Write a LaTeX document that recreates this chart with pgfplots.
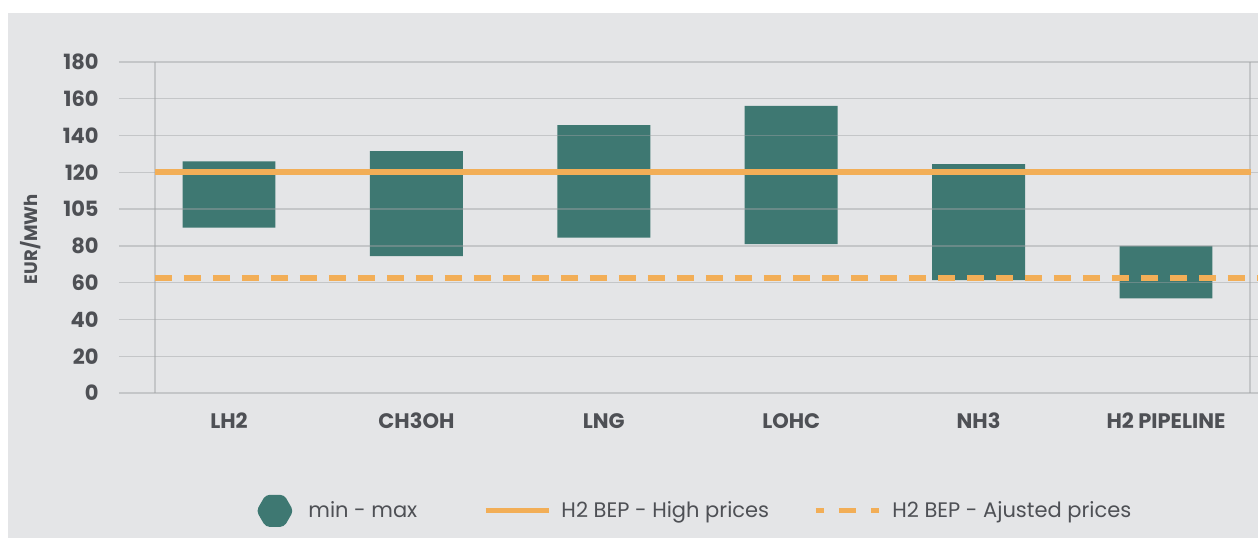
\documentclass[border=0pt]{standalone}
\usepackage{pgfplots}
\pgfplotsset{compat=1.18}
\usepackage{pgfplotstable}
\usepackage{fontspec}
\setmainfont{Poppins}
\usetikzlibrary{shapes.geometric}
\definecolor{bg}{HTML}{E4E5E7}
\definecolor{gridc}{HTML}{9FA1A4}
\definecolor{barc}{HTML}{3E7872}
\definecolor{orng}{HTML}{F2AE57}
\definecolor{txt}{HTML}{4E5055}

\pgfplotstableread{
x min max
0 90 126
1 74.5 131.5
2 84.5 145.7
3 81 156.2
4 61.4 124.5
5 51.5 80
}\bars

\begin{document}
\begin{tikzpicture}
\useasboundingbox (0,0) rectangle (629pt,269pt);
\fill[white] (0,0) rectangle (629pt,269pt);
\fill[bg] (4pt,0) rectangle (629pt,262.5pt);
\begin{axis}[
  at={(59.5pt,72.5pt)}, anchor=south west,
  scale only axis, width=569.5pt, height=165.5pt,
  xmin=-0.587, xmax=5.491, ymin=0, ymax=180,
  axis line style={draw=none},
  ybar stacked, bar width=0.496,
  xtick={0,...,5}, xticklabels={LH2,CH3OH,LNG,LOHC,NH3,H2 PIPELINE},
  ytick={0,20,...,180}, yticklabels={0,20,40,60,80,105,120,140,160,180},
  major tick length=0pt,
  ymajorgrids,
  major grid style={gridc, opacity=0.45, line width=0.65pt},
  extra x ticks={-0.395,5.448}, extra x tick labels={},
  extra x tick style={grid=major},
  axis on top,
  tick label style={text=txt, font=\bfseries\fontsize{10.5}{11}\selectfont},
  yticklabel style={inner sep=0pt, anchor=east, xshift=-10pt},
  xticklabel style={inner sep=0pt, anchor=center, yshift=-14pt},
  ylabel={EUR/MWh},
  ylabel style={at={(axis description cs:-0.078,0.465)}, anchor=center, text=txt, font=\bfseries\fontsize{9}{10}\selectfont},
]
\addplot[fill=none, draw=none] table[x=x, y=min] {\bars};
\addplot[fill=barc, draw=none] table[x=x, y expr=\thisrow{max}-\thisrow{min}] {\bars};
\end{axis}
\begin{axis}[
  at={(59.5pt,72.5pt)}, anchor=south west,
  scale only axis, width=569.5pt, height=165.5pt,
  xmin=-0.587, xmax=5.491, ymin=0, ymax=180,
  hide axis,
  legend columns=3,
  legend style={draw=none, fill=none, at={(0.115,-0.356)}, anchor=west,
    font=\fontsize{10.5}{12}\selectfont, text=txt,
    nodes={inner sep=0pt},
    /tikz/column 1/.style={column sep=7.5pt},
    /tikz/column 2/.style={column sep=33pt},
    /tikz/column 3/.style={column sep=5pt},
    /tikz/column 4/.style={column sep=22pt},
    /tikz/column 5/.style={column sep=5.5pt}},
]
\addlegendimage{legend image code/.code={\node[regular polygon, regular polygon sides=6, fill=barc, minimum size=18.5pt, inner sep=0pt, rounded corners=2pt] at (8.5pt,0pt) {};}}
\addlegendentry{min - max}
\addplot[orng, line width=3pt, legend image code/.code={\draw[orng, line width=2.6pt] (0pt,0pt) -- (31.5pt,0pt);}] coordinates {(-0.395,120) (5.455,120)};
\addlegendentry{H2 BEP - High prices}
\addplot[orng, line width=3pt, dash pattern=on 8.5pt off 6pt, legend image code/.code={\draw[orng, line width=2.6pt, dash pattern=on 4pt off 7.5pt on 8.5pt off 7.5pt on 4pt] (0pt,0pt) -- (31.5pt,0pt);}] coordinates {(-0.395,62.5) (5.491,62.5)};
\addlegendentry{H2 BEP - Ajusted prices}
\end{axis}
\end{tikzpicture}
\end{document}
